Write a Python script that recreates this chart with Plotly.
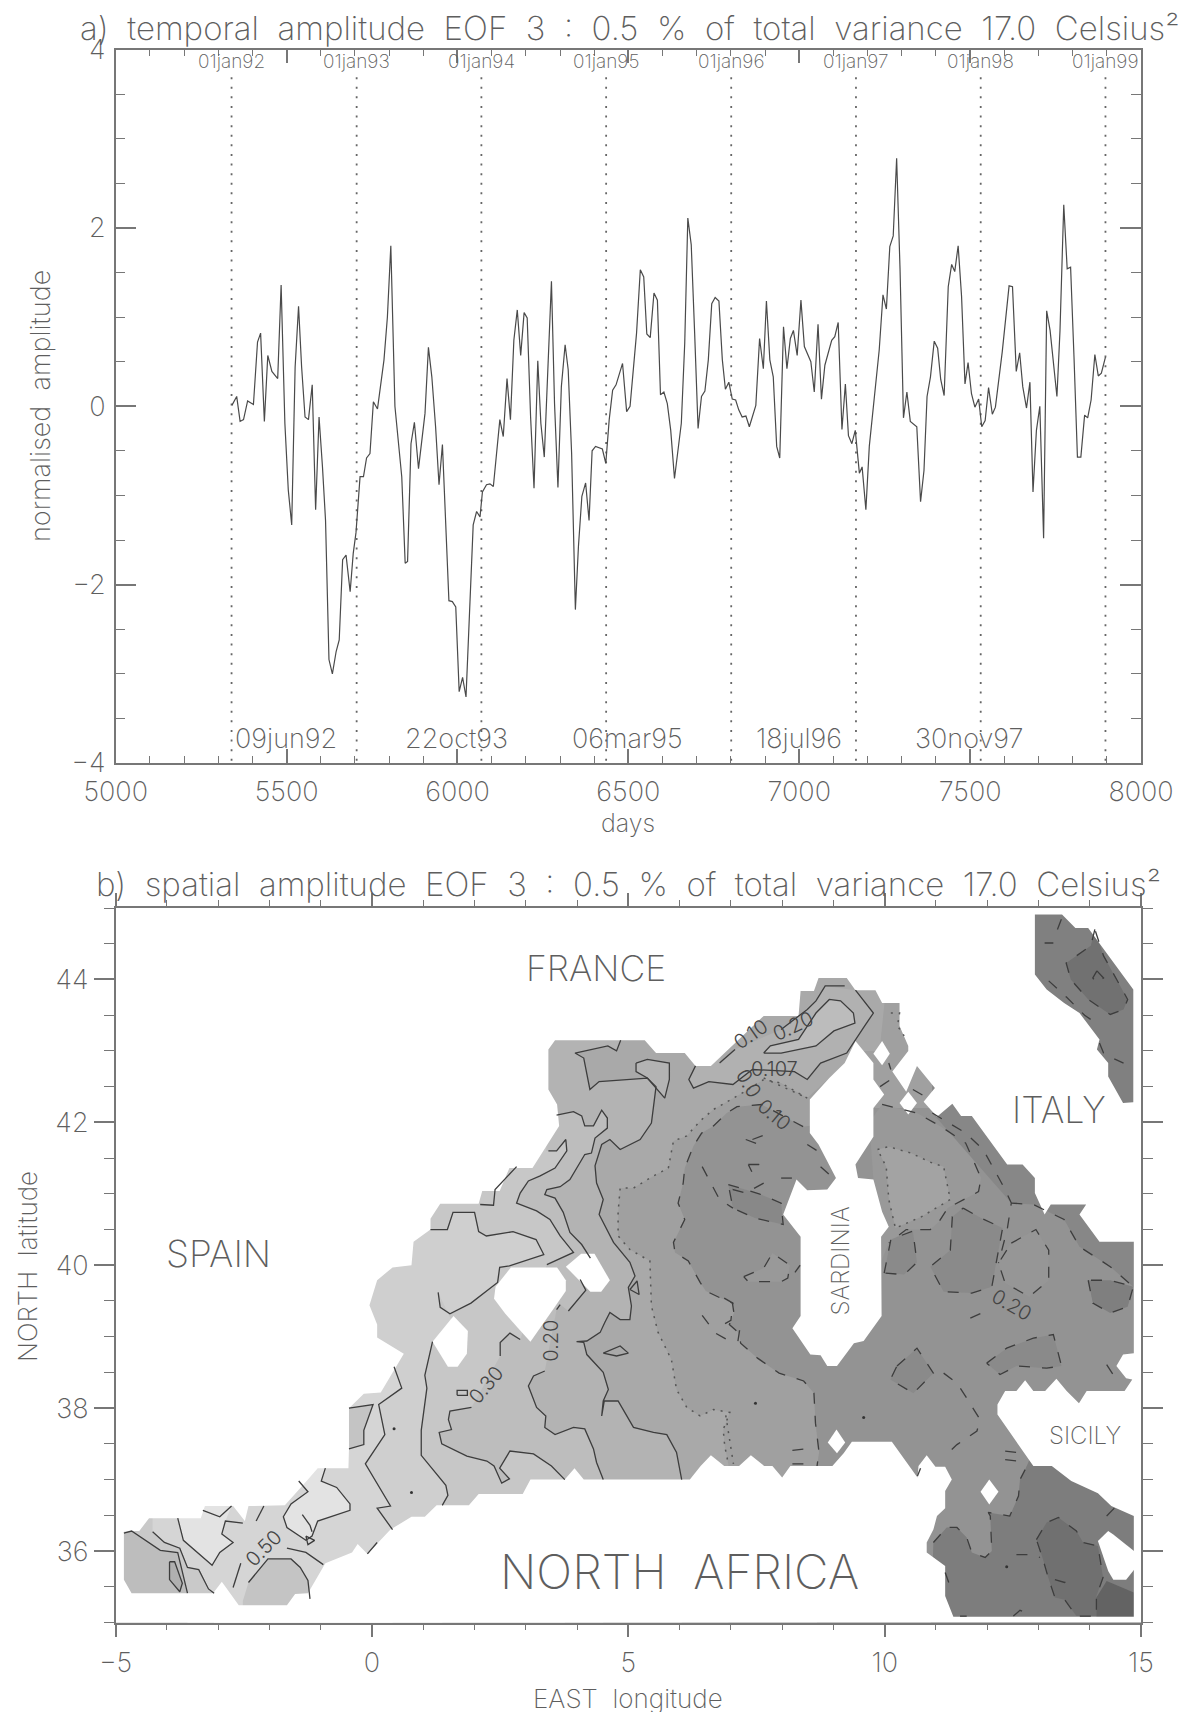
import plotly.graph_objects as go

W, H = 1188, 1712
FONT = "Inter"
WEIGHT = 200
TXT = "#5e5e5e"
AX = "#777777"
NB = "\u00a0"

# ---------- panel a data ----------
DAYS = [5340,5354,5364,5374,5386,5403,5415,5424,5435,5445,5457,5474,5484,5495,5505,5515,5525,5535,5544,5554,5564,5575,5585,5595,5605,5614,5624,5634,5645,5654,5664,5674,5686,5695,5703,5715,5725,5734,5744,5754,5766,5785,5795,5805,5817,5837,5847,5854,5864,5874,5886,5905,5915,5925,5936,5946,5956,5975,5985,5995,6005,6015,6025,6046,6056,6066,6073,6085,6095,6105,6124,6134,6145,6155,6165,6175,6185,6195,6204,6214,6224,6235,6244,6254,6275,6284,6294,6304,6315,6324,6334,6345,6354,6364,6375,6385,6394,6404,6424,6434,6444,6454,6464,6483,6495,6505,6524,6535,6545,6554,6564,6575,6585,6594,6604,6614,6624,6635,6655,6665,6674,6684,6694,6704,6714,6724,6734,6744,6754,6765,6775,6784,6794,6804,6814,6823,6833,6844,6854,6873,6884,6895,6904,6914,6924,6934,6943,6954,6964,6974,6983,6994,7005,7015,7034,7044,7055,7065,7075,7095,7104,7114,7125,7135,7144,7154,7164,7176,7184,7195,7205,7215,7234,7245,7255,7265,7275,7285,7295,7305,7315,7325,7344,7355,7365,7374,7384,7395,7405,7414,7424,7436,7446,7455,7465,7475,7485,7494,7504,7514,7525,7534,7544,7554,7565,7574,7594,7614,7624,7635,7645,7654,7665,7675,7684,7694,7704,7715,7724,7734,7754,7763,7774,7784,7794,7804,7814,7824,7835,7844,7854,7865,7875,7884,7896]
AMPLITUDE = [0.01,0.11,-0.17,-0.15,0.06,0.02,0.72,0.82,-0.17,0.57,0.39,0.31,1.36,-0.19,-0.94,-1.33,0.44,1.12,0.44,-0.12,-0.15,0.24,-1.16,-0.12,-0.68,-1.28,-2.84,-3.0,-2.75,-2.62,-1.72,-1.67,-2.08,-1.65,-1.42,-0.79,-0.79,-0.58,-0.53,0.05,-0.03,0.52,1.0,1.8,0.0,-0.79,-1.76,-1.74,-0.42,-0.18,-0.7,-0.08,0.66,0.33,-0.23,-0.88,-0.43,-2.18,-2.19,-2.25,-3.2,-3.04,-3.26,-1.33,-1.18,-1.24,-0.96,-0.88,-0.87,-0.9,-0.15,-0.34,0.31,-0.15,0.74,1.08,0.57,1.05,0.99,-0.12,-0.92,0.51,-0.19,-0.57,1.4,0.03,-0.91,0.22,0.69,0.41,-0.53,-2.28,-1.57,-1.01,-0.86,-1.28,-0.5,-0.45,-0.48,-0.64,-0.15,0.18,0.24,0.48,-0.06,0.0,0.82,1.53,1.45,0.81,0.77,1.27,1.19,0.13,0.16,0.03,-0.27,-0.81,-0.19,0.71,2.11,1.81,0.82,-0.25,0.11,0.17,0.52,1.15,1.22,1.18,0.52,0.19,0.27,0.08,0.07,-0.04,-0.12,-0.11,-0.23,0.01,0.76,0.42,1.18,0.52,0.33,-0.45,-0.58,0.89,0.42,0.76,0.85,0.57,1.19,0.67,0.5,0.16,0.92,0.08,0.46,0.74,0.78,0.94,-0.26,0.25,-0.33,-0.42,-0.27,-0.75,-0.68,-1.16,-0.45,-0.08,0.63,1.25,1.09,1.79,1.91,2.78,1.53,-0.13,0.16,-0.17,-0.23,-1.07,-0.72,0.11,0.33,0.73,0.65,0.3,0.12,1.34,1.59,1.51,1.8,1.23,0.25,0.49,0.14,-0.01,0.08,-0.23,-0.16,0.21,-0.09,-0.01,0.61,1.35,1.34,0.39,0.6,0.22,-0.02,0.27,-0.96,-0.27,0.0,-1.48,1.07,0.85,0.11,0.85,2.26,1.54,1.56,0.55,-0.57,-0.57,-0.1,-0.13,0.07,0.58,0.34,0.37,0.55]
YEAR_DAYS = [5339,5705,6070,6435,6801,7166,7531,7896]
YEAR_LABELS = ["01jan92","01jan93","01jan94","01jan95","01jan96","01jan97","01jan98","01jan99"]
DATE_DAYS = [5498,5997,6498,7000,7498]
DATE_LABELS = ["09jun92","22oct93","06mar95","18jul96","30nov97"]

# ---------- panel b data (lon, lat) ----------
SEA = [(-4.84,36.27),(-4.84,35.6),(-4.69,35.41),(-3.1,35.41),(-2.93,35.57),(-2.6,35.24),(-1.66,35.24),(-1.5,35.4),(-1.25,35.41),(-0.91,35.83),(-0.39,35.98),(-0.28,36.1),(-0.09,35.96),(0.36,36.3),(0.77,36.48),(1.03,36.48),(1.26,36.64),(1.89,36.64),(2.08,36.8),(2.94,36.8),(3.09,37.0),(3.76,37.0),(3.95,37.16),(4.13,37.0),(6.2,37.0),(6.41,37.19),(6.61,37.34),(6.87,37.19),(7.16,37.19),(7.39,37.34),(7.65,37.19),(7.81,37.19),(8.0,37.03),(8.16,37.19),(8.98,37.19),(9.2,37.37),(9.36,37.53),(10.14,37.53),(10.64,37.03),(10.66,37.19),(10.82,37.34),(10.99,37.18),(11.18,37.18),(11.31,37.0),(11.18,36.84),(11.18,36.6),(11.02,36.49),(10.95,36.3),(10.82,36.12),(10.82,35.98),(11.18,35.79),(11.18,35.37),(11.34,35.08),(14.86,35.08),(14.86,36.49),(14.42,36.63),(14.16,36.81),(13.64,36.98),(13.26,37.19),(12.9,37.19),(12.2,37.91),(12.2,38.05),(12.35,38.24),(12.57,38.24),(12.74,38.39),(12.9,38.24),(13.13,38.24),(13.35,38.41),(13.55,38.24),(13.79,38.07),(13.94,38.24),(14.68,38.24),(14.83,38.4),(14.71,38.42),(14.52,38.59),(14.65,38.75),(14.86,38.77),(14.86,40.33),(14.19,40.33),(13.8,40.71),(13.93,40.85),(13.24,40.85),(13.12,40.71),(12.93,41.01),(12.93,41.22),(12.69,41.41),(12.39,41.41),(11.7,42.09),(11.49,42.09),(11.32,42.26),(11.02,42.08),(10.76,42.29),(10.98,42.48),(10.63,42.79),(10.42,42.43),(10.15,42.71),(10.46,43.0),(10.46,43.07),(10.29,43.35),(10.29,43.67),(9.95,43.67),(9.82,43.85),(9.43,43.85),(9.26,44.02),(8.71,44.02),(8.62,43.84),(8.36,43.84),(8.32,43.49),(7.64,43.49),(6.61,42.79),(6.31,42.79),(6.1,42.97),(5.54,42.97),(5.32,43.15),(3.57,43.15),(3.44,43.02),(3.44,42.46),(3.61,42.25),(3.65,41.95),(3.13,41.36),(2.68,41.36),(2.49,41.04),(2.15,41.04),(2.08,40.86),(1.33,40.86),(1.14,40.65),(1.14,40.5),(0.81,40.33),(0.77,40.0),(0.4,39.97),(0.1,39.79),(-0.05,39.44),(0.1,39.17),(0.1,38.99),(0.62,38.76),(0.17,38.22),(-0.16,38.2),(-0.45,38.0),(-0.45,37.43),(-0.46,37.16),(-1.06,37.16),(-1.25,37.0),(-1.7,36.64),(-2.41,36.63),(-2.48,36.42),(-2.71,36.63),(-3.26,36.63),(-3.34,36.46),(-4.35,36.46),(-4.54,36.28),(-4.69,36.28)]
ADRIATIC = [(14.85,42.28),(14.85,43.86),(13.97,44.72),(13.72,44.72),(13.46,44.91),(12.93,44.91),(12.93,44.07),(13.16,43.86),(13.5,43.67),(13.8,43.53),(14.19,43.16),(14.14,43.02),(14.36,42.83),(14.36,42.64),(14.65,42.27)]

CORSICA_SARDINIA = [(9.43,43.14),(9.22,42.83),(8.92,42.62),(8.54,42.32),(8.54,41.85),(8.71,41.69),(9.05,41.22),(8.88,41.06),(8.49,41.05),(8.28,41.2),(8.02,40.71),(8.36,40.4),(8.36,39.29),(8.2,39.12),(8.55,38.75),(8.75,38.74),(8.88,38.59),(9.07,38.59),(9.4,38.91),(9.59,38.94),(9.94,39.29),(9.93,40.4),(10.08,40.54),(9.95,40.75),(9.78,41.2),(9.48,41.22),(9.43,41.41),(9.78,41.8),(9.78,42.2),(9.99,42.39),(9.78,42.6),(9.78,42.83)]
IBIZA = [(1.59,39.29),(1.87,39.08),(1.85,38.76),(1.67,38.58),(1.48,38.58),(1.18,38.93)]
MALLORCA = [(2.71,39.97),(3.61,39.97),(3.78,39.79),(3.78,39.64),(3.5,39.35),(3.27,39.11),(3.09,38.93),(2.86,39.11),(2.6,39.32),(2.38,39.53),(2.41,39.7)]
MENORCA = [(3.78,39.98),(4.08,40.16),(4.34,40.16),(4.64,39.79),(4.47,39.63),(4.26,39.63),(4.04,39.79)]
ISLET_A = [(9.95,43.14),(10.1,42.96),(9.95,42.8),(9.78,42.96)]
ISLET_B = [(10.46,42.43),(10.63,42.27),(10.46,42.11),(10.29,42.27)]
ISLET_C = [(9.06,37.7),(9.23,37.52),(9.07,37.37),(8.89,37.52)]
ISLET_D = [(12.04,37.0),(12.22,36.83),(12.04,36.65),(11.87,36.83)]
MALTA = [(14.36,36.28),(14.16,36.14),(14.36,35.72),(14.46,35.6),(14.71,35.6),(14.9,35.77),(14.9,35.98),(14.46,36.23)]
LAND_HOLES = [CORSICA_SARDINIA,IBIZA,MALLORCA,MENORCA,ISLET_A,ISLET_B,ISLET_C,ISLET_D,MALTA]

# contour chains, None marks a gap in the drawn line
C50 = [(0.43,38.58),(0.58,38.28),(0.13,38.05),(0.25,37.63),(-0.13,37.22),(0.21,36.8),(0.36,36.63),(0.1,36.6),(0.4,36.3)]
C40 = [(1.14,40.5),(1.47,40.5),(1.58,40.74),(2.0,40.74),(2.08,40.47),(2.23,40.41),(2.75,40.47),(3.2,40.36),(3.35,40.15),(2.68,39.99),(2.49,39.97),(2.45,39.76),(1.93,39.47),(1.52,39.32),(1.33,39.41),(1.29,39.62),None,(1.55,39.23),None,(1.18,38.93),(1.03,38.46),(1.07,38.28),(0.96,37.69),(0.96,37.34),(1.44,36.92),(1.48,36.78),(1.37,36.64)]
C30 = [(3.44,41.6),(3.6,41.6),(3.78,41.76),(3.8,41.6),(3.57,41.36),(3.28,41.25),(3.05,41.18),(2.89,41.01),(2.82,40.87),(3.21,40.76),(3.47,40.64),(3.67,40.41),(3.93,40.18),(3.41,40.01),None,(2.89,38.96),(2.69,39.05),(2.5,38.92),(2.5,38.73),None,(1.94,38.01),(1.52,37.96),(1.49,37.84),(1.55,37.7),(1.31,37.66),(1.36,37.5),(1.85,37.33),(2.24,37.26),(2.38,37.19),(2.53,36.95),(2.68,37.01),(2.49,37.16),(2.69,37.4),(3.15,37.36),(3.5,37.19),(3.76,37.0)]
C20 = [(3.6,42.1),(3.93,42.15),(4.09,42.09),(4.15,41.95),(4.32,41.95),(4.48,42.17),(4.59,42.06),(4.59,41.92),(4.35,41.78),(4.28,41.57),(4.15,41.55),(3.86,41.2),(3.67,41.1),(3.41,41.06),(3.37,40.99),(3.57,40.94),(3.73,40.74),(3.86,40.46),(4.09,40.29),(4.26,40.1),None,(4.06,39.8),(4.17,39.65),(3.83,39.36),None,(3.67,39.45),(3.6,39.38),None,(3.37,38.52),(3.15,38.45),(3.05,38.31),(3.21,38.01),(3.39,37.89),(3.37,37.73),(3.57,37.63),(3.93,37.73),(4.15,37.71),(4.32,37.43),(4.38,37.24),(4.51,37.0)]
C10 = [(4.85,43.15),(4.77,43.0),(4.6,43.07),(3.96,42.97),(4.13,42.9),(4.25,42.46),(4.43,42.57),(5.37,42.62),(5.54,42.5),(5.52,42.37),(5.45,41.99),(5.23,41.76),(4.84,41.62),(4.64,41.76),(4.48,41.69),(4.35,41.39),(4.38,41.15),(4.51,40.92),(4.43,40.71),(4.71,40.32),(5.03,40.04),(5.13,39.85),(5.0,39.69),(5.06,39.43),(5.03,39.24),(4.84,39.24),(4.64,39.34),(4.54,39.2),(4.45,39.06),(4.19,38.94),(3.99,38.93),(4.13,38.92),(4.19,38.75),(4.51,38.5),(4.61,38.26),(4.51,38.1),(4.48,37.89),(4.53,38.1),(4.8,38.1),(5.1,37.73),(5.49,37.66),(5.75,37.63),(5.94,37.38),(6.04,37.0)]
C00 = [(8.49,42.34),(7.98,42.55),(7.64,42.6),(7.34,42.46),(7.05,42.34),(6.66,42.18),(6.4,42.02),(6.14,41.81),(5.88,41.74),(5.78,41.36),(5.49,41.25),(5.1,41.08),(4.84,41.08),(4.8,40.74),(4.8,40.41),(5.03,40.22),(5.42,40.06),(5.45,39.43),(5.58,39.06),(5.84,38.68),(5.94,38.26),(6.14,38.01),(6.4,37.89),(6.66,37.98),(6.98,37.94),(6.85,37.7),(6.88,37.47),(6.95,37.22)]
CM10 = [(8.41,41.94),(8.0,42.1),(7.6,42.25),(7.12,42.22),(6.92,42.13),(6.66,41.95),(6.43,41.85),(6.27,41.67),(6.1,41.36),(6.07,41.15),(5.97,40.87),(6.1,40.64),(5.88,40.32),(5.91,40.18),(6.17,40.06),(6.4,39.76),(6.51,39.64),(6.8,39.54),(7.03,39.47),(7.06,39.33),(6.97,39.17),(7.16,39.05),(7.19,38.91),(7.52,38.7),(7.94,38.49),(8.42,38.38),(8.62,38.21),(8.65,37.79),(8.72,37.38),(8.68,37.19)]
T_RING = [(9.95,42.25),(10.21,42.2),(10.63,42.13),(11.1,41.94),(11.58,41.71),(11.88,41.22),(11.83,41.03),(11.23,40.8),(11.06,40.61),(10.89,40.5),(10.42,40.5),(10.08,40.31)]
T_OUTER = [(10.93,42.13),(11.58,41.85),(11.92,41.62),(12.35,41.06),(12.47,40.87),(12.39,40.5),(12.22,40.03)]
T_DOT = [(9.86,41.62),(10.08,41.66),(10.51,41.57),(10.93,41.43),(11.15,41.38),(11.28,40.92),(10.72,40.68),(10.21,40.52),(10.08,40.92),(10.03,41.38),(9.86,41.62)]
T_BLOB = [(11.53,40.8),(11.88,40.66),(12.3,40.52),(12.17,39.98),(12.09,39.7),(11.7,39.61),(11.15,39.63),(10.89,39.98),(11.28,40.21),(11.32,40.68),(11.53,40.8)]
T_LENS = [(12.47,40.31),(12.95,40.5),(13.2,40.21),(13.2,39.79),(12.82,39.56),(12.35,39.75),(12.22,40.03),(12.47,40.31)]
T_NE = [(12.47,40.87),(12.9,40.85),(13.5,40.64),(13.8,40.26),(14.4,39.98),(14.85,39.7)]
T_NE_BLOB = [(13.97,39.79),(14.06,39.47),(14.4,39.33),(14.74,39.42),(14.85,39.7),(14.4,39.79),(13.97,39.79)]
T_WEST_BLOB = [(9.99,39.89),(10.12,40.36),(10.55,40.48),(10.63,40.04),(10.38,39.87),(9.99,39.89)]
ST_P1 = [(10.24,38.59),(10.63,38.84),(10.95,38.49),(10.56,38.21),(10.11,38.4),(10.24,38.59)]
ST_P2 = [(11.99,38.63),(12.38,38.84),(12.9,38.98),(13.29,39.03),(13.45,38.59),(13.16,38.56),(12.57,38.59),(12.25,38.47),(11.99,38.63)]
CH_S1 = [(10.95,36.12),(11.21,36.33),(11.41,36.33),(11.6,36.19),(11.7,35.98),(11.96,35.91),(12.09,36.0),(12.06,36.49),(12.02,36.54),(12.32,36.51),(12.44,36.49),(12.61,36.77),(12.64,37.0),(12.74,37.14)]
CH_S2 = [(12.96,36.16),(13.16,36.4),(13.39,36.47),(13.74,36.28),(13.87,36.12),(14.16,36.07),(14.26,35.63),(14.13,35.37),(14.13,35.09),(13.74,35.09),(13.51,35.32),(13.32,35.35),(13.19,35.63),(13.09,35.88),(12.96,36.16)]
CH_S3 = [(14.13,35.08),(14.13,35.35),(14.33,35.58),(14.86,35.42),(14.86,35.08)]
BAL_PATCH = [(6.95,41.13),(7.55,41.0),(7.98,40.87),(8.02,40.57),(7.47,40.66),(7.04,40.8),(6.95,41.13)]
SARD_LENS = [(7.25,39.84),(7.64,39.96),(7.81,40.17),(8.15,40.0),(8.11,39.82),(7.98,39.77),(7.34,39.77),(7.25,39.84)]
ADR_BLOB = [(14.1,44.7),(14.02,44.47),(13.54,44.23),(13.63,44.0),(13.97,43.72),(14.4,43.51),(14.66,43.58),(14.74,43.72),(14.27,44.33),(14.1,44.7)]

AL1 = [(-4.84,36.25),(-4.69,36.28),(-4.13,36.01),(-3.79,35.98),(-3.6,35.41)]
AL2 = [(-4.28,36.27),(-4.05,36.12),(-3.75,36.04),(-3.6,35.77),(-3.38,35.74),(-3.19,35.47),(-3.08,35.41)]
AL_LENS = [(-3.95,35.85),(-3.85,35.85),(-3.7,35.55),(-3.75,35.43),(-3.95,35.6),(-3.95,35.85)]
AL_LIGHT = [(-3.79,36.46),(-3.68,36.15),(-3.12,35.8),(-2.97,35.98),(-2.71,36.12),(-2.93,36.24),(-2.86,36.42),(-2.74,36.63)]
AL_LOW = [(-2.52,35.3),(-2.41,35.56),(-2.03,35.89),(-1.58,35.89),(-1.4,35.77),(-1.25,35.59),(-1.21,35.33)]
AL_LIGHT2 = [(-1.43,36.98),(-1.25,36.83),(-1.58,36.66),(-1.73,36.48),(-1.66,36.33),(-1.29,36.15),(-1.17,36.21),(-1.06,36.42),(-0.43,36.57),(-0.43,36.66),(-0.69,36.89),(-0.99,36.98),(-0.91,37.16)]
ALM_PATCH = [(-0.45,38.0),(0.02,38.05),(-0.16,37.69),(-0.16,37.49),(-0.45,37.43)]
PB_LENS = [(5.15,42.83),(5.37,42.88),(5.8,42.83),(5.8,42.6),(5.71,42.34),(5.37,42.62),(5.15,42.71),(5.15,42.83)]
LIG_OUTER = [(6.31,42.79),(6.18,42.6),(6.27,42.48),(6.57,42.57),(7.04,42.53),(7.42,42.74),(8.24,42.71),(8.49,42.6),(8.75,42.83),(9.26,42.97),(9.61,43.35),(9.78,43.53),(9.43,43.85),(8.84,43.91),(8.66,43.7),(7.98,43.3),(7.08,43.02),(6.78,42.83)]
LIG_INNER = [(7.64,42.97),(7.77,43.07),(8.32,43.16),(8.66,43.53),(8.92,43.72),(9.14,43.7),(9.39,43.53),(9.42,43.39),(9.01,43.28),(8.66,43.07),(7.98,42.97),(7.64,42.97)]

SOLID_EXTRA = [
    AL1, AL2, AL_LENS+[AL_LENS[0]], AL_LIGHT[:-1]+[(-2.86,36.42),(-2.52,36.39)], [(-3.3,36.57),(-2.97,36.48),(-2.74,36.63)],
    AL_LOW[1:], [(-2.71,35.49),(-2.56,35.83)], [(-1.66,36.04),(-1.29,35.98),(-0.95,35.81)], [(-1.29,36.21),(-1.12,36.15),(-1.25,36.09),(-1.29,36.21)],
    [(-1.36,36.51),(-1.21,36.36),(-1.17,36.27)], [(-2.26,36.42),(-2.11,36.63)], [(-0.09,35.96),(0.1,36.12)],
    AL_LIGHT2, ALM_PATCH, PB_LENS, [(2.82,41.38),(2.4,41.06),(2.37,40.84),(2.11,40.85)],
    [(4.51,38.77),(4.84,38.87),(5.0,38.77),(4.77,38.73),(4.51,38.77)], [(5.03,39.66),(5.17,39.78),(5.21,39.59),(5.03,39.66)],
    [(1.66,38.18),(1.86,38.18),(1.86,38.25),(1.66,38.25),(1.66,38.18)], C50, LIG_OUTER[:8]+[(8.75,42.83),(9.26,42.97),(9.61,43.35),(9.78,43.53),(9.43,43.85)],
    [(9.22,43.91),(8.84,43.91),(8.66,43.7),(8.49,43.58),(7.98,43.3)], [(7.08,43.02),(6.78,42.83)], LIG_INNER,
]
DASHED_EXTRA = [
    CM10, T_RING, T_OUTER, T_BLOB, T_LENS, T_NE, T_NE_BLOB, T_WEST_BLOB, ST_P1, ST_P2, CH_S1, CH_S2, ADR_BLOB,
    BAL_PATCH, SARD_LENS,
    [(7.42,41.76),(7.68,41.83)], [(7.29,41.76),(7.55,41.69)], [(7.34,41.41),(7.55,41.41),(7.42,41.29),(7.34,41.41)],
    [(7.98,41.22),(8.19,41.22)], [(8.49,41.69),(8.71,41.59)], [(8.75,41.38),(8.92,41.27)],
    [(7.64,41.15),(7.29,41.01),(7.04,41.06),(6.95,40.92)], [(6.44,41.38),(6.61,41.15),(6.78,40.92),(7.04,40.8)],
    [(6.87,39.54),(7.04,39.47),(7.0,39.23),(6.78,39.14)], [(6.44,39.3),(6.7,39.05),(6.95,38.95)], [(7.17,39.09),(7.12,38.86)],
    [(10.08,42.83),(10.12,42.74)], [(9.91,42.5),(10.12,42.6)], [(10.55,42.46),(10.89,42.32)],
    [(11.67,39.26),(11.89,39.33)], [(11.15,38.49),(11.41,38.35),(11.6,38.14),(11.86,37.84),(11.8,37.68),(11.41,37.49),(11.25,37.38)],
    [(12.35,37.4),(12.57,37.38)], [(12.35,37.28),(12.6,37.26)], [(14.33,38.61),(14.52,38.4)], [(14.14,44.12),(14.27,44.02),(14.14,43.95),(14.06,44.02),(14.14,44.12)],
    [(13.2,43.98),(13.55,43.75),(13.9,43.5),(14.1,43.4)], [(14.19,43.11),(14.27,42.97),(14.44,42.9),(14.66,42.83)], [(13.37,44.7),(13.46,44.87)], [(13.12,44.51),(13.29,44.51)],
    [(13.32,35.6),(13.51,35.56),(13.68,35.6)], [(12.51,35.09),(12.64,35.17),(12.9,35.1)], [(12.57,35.95),(12.9,35.95),(13.03,35.91)], [(14.33,36.49),(14.52,36.63)],
    [(11.18,35.7),(11.25,35.56)], [(11.47,35.09),(11.6,35.09)], [(8.2,37.41),(8.46,37.43)], [(8.2,37.22),(8.46,37.22)],
    [(10.7,37.16),(10.64,37.05)], [(8.35,40.0),(8.25,39.9)],
]
DOTTED_EXTRA = [C00, T_DOT, [(10.12,43.53),(10.29,43.53),(10.25,43.35),(10.38,43.21)], [(6.9,37.9),(7.05,37.22)], [(7.64,42.62),(8.49,42.34)]]
SPOTS = [(0.43,37.71),(0.77,36.82),(7.48,38.07),(9.59,37.87),(12.38,35.78)]

MAP_LABELS = ["FRANCE","SPAIN","ITALY","NORTH  AFRICA","SARDINIA","SICILY"]
MAP_LABEL_POS = [(4.37,44.15),(-3.0,40.17),(13.4,42.17),(5.99,35.72),(9.14,40.06),(13.9,37.62)]
MAP_LABEL_SIZE = [35.5,37,36,47.5,24,24]
MAP_LABEL_ROT = [0,0,0,0,-90,0]
CONTOUR_LABELS = ["0.50","0.30","0.20","0.20","0.10","0.20","0.107","0.0","0.10"]
CONTOUR_LABEL_POS = [(-2.11,36.04),(2.22,38.33),(3.5,38.95),(12.48,39.45),(7.4,43.23),(8.22,43.35),(7.85,42.75),(7.34,42.55),(7.85,42.1)]
CONTOUR_LABEL_ROT = [-45,-50,-90,30,-35,-25,0,60,40]

def xs(p): return [q[0] if q else None for q in p]
def ys(p): return [q[1] if q else None for q in p]
def solidify(p): return [q for q in p if q is not None]

fig = go.Figure()
XA, YA = "x2", "y2"

def fill(poly, color):
    fig.add_trace(go.Scatter(x=xs(poly), y=ys(poly), xaxis=XA, yaxis=YA, mode="lines", fill="toself",
                             fillcolor=color, line=dict(width=0), hoverinfo="skip", showlegend=False))

def line(poly, dash=None, color="#3d3d3d", width=1.3):
    fig.add_trace(go.Scatter(x=xs(poly), y=ys(poly), xaxis=XA, yaxis=YA, mode="lines",
                             line=dict(color=color, width=width, dash=dash), hoverinfo="skip", showlegend=False))

# panel a
for d in YEAR_DAYS:
    fig.add_trace(go.Scatter(x=[d, d], y=[3.69, -4], xaxis="x", yaxis="y", mode="lines",
                             line=dict(color="#666666", width=1.8, dash="2px,7.6px"), hoverinfo="skip", showlegend=False))
fig.add_trace(go.Scatter(x=DAYS, y=AMPLITUDE, xaxis="x", yaxis="y", mode="lines",
                         line=dict(color="#4a4a4a", width=1.2), hoverinfo="skip", showlegend=False))

# panel b fills, painted from west to east
fill([(-5,35),(-5,45),(15,45),(15,35)], "#d5d5d5")
fill(C50 + [(0.4,35),(15,35),(15,45),(-1,45),(-1,39.0),(0.3,38.9)], "#cfcfcf")
fill(AL2 + [(-3.08,35),(-5,35),(-5,36.5),(-4.28,36.5)], "#c9c9c9")
fill(AL1 + [(-3.6,35),(-5,35),(-5,36.3)], "#bdbdbd")
fill(AL_LENS, "#b0b0b0")
fill(AL_LIGHT + [(-3.4,36.7)], "#e3e3e3")
fill(AL_LOW + [(-1.21,35.2),(-2.52,35.2)], "#c4c4c4")
fill(AL_LIGHT2 + [(-1.2,37.2)], "#e3e3e3")
fill(ALM_PATCH, "#c4c4c4")
fill(solidify(C40) + [(1.37,35),(15,35),(15,45),(1.14,45)], "#c7c7c7")
fill(solidify(C30) + [(3.76,35),(15,35),(15,45),(3.4,45),(3.4,41.6)], "#bdbdbd")
fill(solidify(C20) + [(4.51,35),(15,35),(15,45),(3.4,45),(3.4,42.1)], "#b3b3b3")
fill(solidify(C10) + [(6.04,35),(15,35),(15,45),(4.85,45)], "#a9a9a9")
fill(PB_LENS, "#b3b3b3")
fill(LIG_OUTER + [(7.0,43.5),(6.4,43.0)], "#b1b1b1")
fill(LIG_INNER, "#bcbcbc")
fill(C00 + [(6.95,35),(15,35),(15,45),(10.2,45),(10.0,43.7),(9.9,43.0),(9.5,43.0)], "#a0a0a0")
fill(CM10 + [(8.68,35),(15,35),(15,45),(11,45),(11,42.2),(9.8,42.2),(9.0,42.0)], "#939393")
fill(T_RING + [(9.9,40.0),(9.7,42.0)], "#999999")
fill(T_DOT, "#a3a3a3")
fill(T_BLOB, "#8a8a8a")
fill(T_LENS, "#969696")
fill(T_WEST_BLOB, "#8a8a8a")
fill(ST_P1, "#8a8a8a")
fill(ST_P2, "#8a8a8a")
fill(BAL_PATCH, "#888888")
fill(SARD_LENS, "#999999")
fill(T_NE + [(15,39.7),(15,45),(10.9,45),(10.93,42.13)] , "#878787")
fill(T_NE_BLOB, "#7f7f7f")
fill(ADRIATIC, "#808080")
fill(ADR_BLOB, "#717171")
fill(CH_S1 + [(12.9,37.4),(15,37.4),(15,35),(10.9,35)], "#7d7d7d")
fill(CH_S2, "#707070")
fill(CH_S3, "#636363")

# land mask: the plot rectangle with the sea cut out of it
def ring(p): return p + [p[0], None]
mask = ring([(-5,35),(-5,45),(15,45),(15,35)]) + ring(SEA) + ring(ADRIATIC)
fig.add_trace(go.Scatter(x=xs(mask), y=ys(mask), xaxis=XA, yaxis=YA, mode="lines", fill="toself",
                         fillcolor="white", line=dict(width=0), hoverinfo="skip", showlegend=False))
for h in LAND_HOLES:
    fill(h, "white")

# contours
for c in [C40, C30, C20, C10] + SOLID_EXTRA:
    line(c)
for c in DASHED_EXTRA:
    line(c, dash="11px,12px")
for c in DOTTED_EXTRA:
    line(c, dash="2px,6px", color="#555555", width=1.5)
fig.add_trace(go.Scatter(x=xs(SPOTS), y=ys(SPOTS), xaxis=XA, yaxis=YA, mode="markers",
                         marker=dict(color="#333333", size=3), hoverinfo="skip", showlegend=False))

PAGE = 8  # the page body's own margin
def X(px): return (px - PAGE) / W
def Y(py): return 1 - (py - PAGE) / H

def axis(domain, rng, dtick, minor, mt, ml, **kw):
    return dict(domain=domain, range=rng, dtick=dtick, showgrid=False, zeroline=False, automargin=False,
                showline=True, linecolor=AX, linewidth=1.5, mirror="ticks", tickcolor=AX, tickwidth=1.5,
                tickfont=dict(family=FONT, size=27, color=TXT, weight=WEIGHT),
                minor=dict(dtick=minor, showgrid=False, ticks=mt, ticklen=ml, tickcolor=AX, tickwidth=1.2),
                **kw)

L, R = 115.7, 1141.0
fig.update_layout(
    template="none",
    width=W, height=H, autosize=False, margin=dict(l=0, r=0, t=0, b=0),
    paper_bgcolor="white", plot_bgcolor="white", showlegend=False,
    xaxis=axis([X(L), X(R)], [5000, 8000], 500, 100, "inside", 7, anchor="y", ticks="inside", ticklen=14, ticklabelstandoff=4),
    yaxis=axis([Y(763), Y(49.5)], [-4, 4], 2, 0.5, "inside", 10, anchor="x", ticks="inside", ticklen=21, ticklabelstandoff=3),
    xaxis2=axis([X(L), X(R)], [-5, 15], 5, 1, "outside", 6, anchor="y2", ticks="outside", ticklen=13, ticklabelstandoff=2),
    yaxis2=axis([Y(1622.5), Y(908)], [35, 45], 2, 0.5, "outside", 10, anchor="x2", ticks="outside", ticklen=20),
)

def note(text, x, y, size, xref="paper", yref="paper", rot=0, color=TXT, weight=WEIGHT):
    fig.add_annotation(text=text, x=x, y=y, xref=xref, yref=yref, showarrow=False, textangle=rot,
                       font=dict(family=FONT, size=size, color=color, weight=weight), xanchor="center", yanchor="middle")

def wide(s): return s.replace(" ", " " + NB)

note(wide("a) temporal amplitude EOF 3 : 0.5 % of total variance 17.0 Celsius²"), X(630), Y(28), 33)
note(wide("b) spatial amplitude EOF 3 : 0.5 % of total variance 17.0 Celsius²"), X(628), Y(884), 33)
note("days", X(628), Y(823), 25)
note(wide("EAST longitude"), X(628), Y(1698), 26)
note(wide("normalised amplitude"), X(41), Y(406), 27, rot=-90)
note(wide("NORTH latitude"), X(27), Y(1267), 26, rot=-90)
for d, t in zip(YEAR_DAYS, YEAR_LABELS):
    note(t, d, 3.86, 19, xref="x", yref="y")
for d, t in zip(DATE_DAYS, DATE_LABELS):
    note(t, d, -3.72, 27, xref="x", yref="y")
for t, p, s, r in zip(MAP_LABELS, MAP_LABEL_POS, MAP_LABEL_SIZE, MAP_LABEL_ROT):
    note(t, p[0], p[1], s, xref="x2", yref="y2", rot=r)
for t, p, r in zip(CONTOUR_LABELS, CONTOUR_LABEL_POS, CONTOUR_LABEL_ROT):
    note(t, p[0], p[1], 20, xref="x2", yref="y2", rot=r, color="#444444", weight=300)

fig.write_html("out.html")
